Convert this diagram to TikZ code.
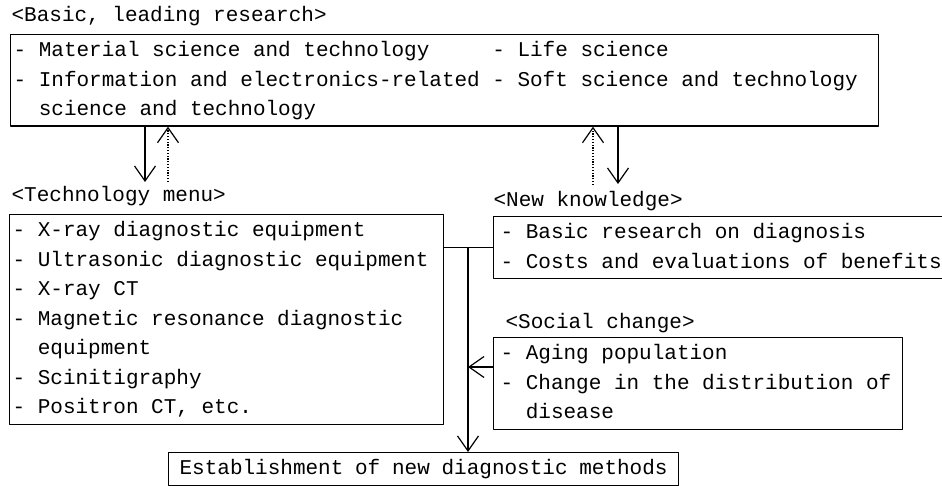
\documentclass[tikz,border=0pt]{standalone}
\usepackage{fontspec}
\usepackage{tikz}
\usetikzlibrary{arrows.meta}
\newfontfamily\typefont{Liberation Mono}

\begin{document}
\begin{tikzpicture}[line cap=round,line join=round,>={Straight Barb[length=15bp,width=21bp]},x=1bp,y=-1bp,
  line width=1.2bp,
  every node/.style={font={\typefont\fontsize{21bp}{29.5bp}\selectfont}},
  menubox/.style={draw,anchor=north west,inner ysep=1.5bp},
  heading/.style={anchor=base west,inner sep=0pt},
  dotline/.style={dash pattern=on 1.2bp off 1.6bp,line cap=butt}]
\useasboundingbox (0,0) rectangle (942,486);
\clip (0,0) rectangle (942,486);
% headings
\node[heading] (lbasic) at (11,21.5) {<Basic, leading research>};
\node[heading] (ltech) at (11,201.5) {<Technology menu>};
\node[heading] (lnk) at (493,206.5) {<New knowledge>};
\node[heading] (lsoc) at (505,328.5) {<Social change>};
% boxes
\node[menubox,inner xsep=3bp] (basic) at (10,34) {\begin{tabular}{@{}p{478.8bp}@{}p{383.2bp}@{}}
- Material science and technology & - Life science\\
- Information and electronics-related & - Soft science and technology\\
\hspace*{25.2bp}science and technology &
\end{tabular}};
\node[menubox,inner xsep=3bp] (tech) at (9,214) {\begin{tabular}{@{}p{428bp}@{}}
- X-ray diagnostic equipment\\
- Ultrasonic diagnostic equipment\\
- X-ray CT\\
- Magnetic resonance diagnostic\\
\hspace*{25.2bp}equipment\\
- Scinitigraphy\\
- Positron CT, etc.
\end{tabular}};
\node[menubox,inner xsep=7bp] (nk) at (493,216) {\begin{tabular}{@{}p{446bp}@{}}
- Basic research on diagnosis\\
- Costs and evaluations of benefits
\end{tabular}};
\node[menubox,inner xsep=7bp] (soc) at (493,337) {\begin{tabular}{@{}p{395bp}@{}}
- Aging population\\
- Change in the distribution of\\
\hspace*{25.2bp}disease
\end{tabular}};
\node[menubox,inner xsep=11bp] (est) at (168,452) {\begin{tabular}{@{}p{488bp}@{}}
Establishment of new diagnostic methods
\end{tabular}};
% arrows between research and the two boxes below
\coordinate (d1) at (145,182);
\coordinate (u1) at (168,182);
\coordinate (u2) at (593,185);
\coordinate (d2) at (618,184);
\draw [->] (basic.south -| d1) -- (d1);
\draw [->,dotline] (u1) -- (basic.south -| u1);
\draw [->,dotline] (u2) -- (basic.south -| u2);
\draw [->] (basic.south -| d2) -- (d2);
% joining line down to the result
\coordinate (jn) at ([xshift=-25bp]nk.west);
\draw (tech.east |- nk.west) -- (nk.west);
\draw [->] (jn) -- (jn |- est.north);
\coordinate (sa) at ([yshift=-30bp]soc.north west);
\draw [->] (sa) -- (sa -| jn);
\end{tikzpicture}
\end{document}
